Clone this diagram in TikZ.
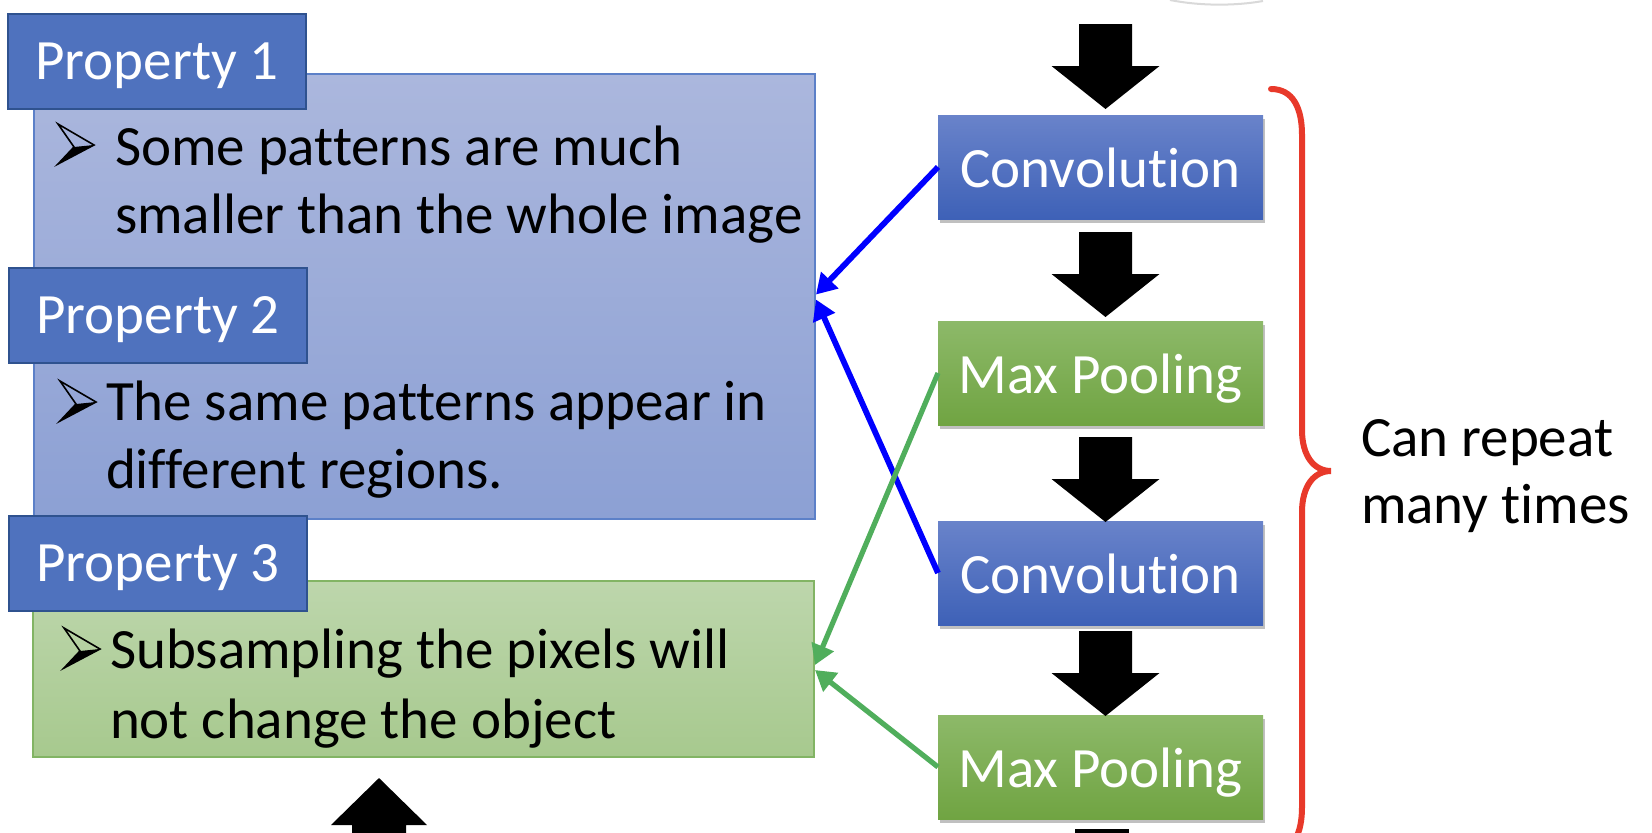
\documentclass[tikz,border=0pt]{standalone}
\usepackage{fontspec}
\setmainfont{Carlito}[Ligatures={NoCommon}]
\usetikzlibrary{arrows.meta,shadows,calc}
\definecolor{mbtop}{RGB}{171,183,221}
\definecolor{mbbot}{RGB}{140,160,212}
\definecolor{mbline}{RGB}{92,128,200}
\definecolor{gbtop}{RGB}{189,214,172}
\definecolor{gbbot}{RGB}{167,201,142}
\definecolor{gbline}{RGB}{130,180,100}
\definecolor{propfill}{RGB}{79,114,190}
\definecolor{propline}{RGB}{47,82,143}
\definecolor{convtop}{RGB}{105,131,202}
\definecolor{convbot}{RGB}{62,97,183}
\definecolor{pooltop}{RGB}{141,185,105}
\definecolor{poolbot}{RGB}{112,164,66}
\definecolor{connblue}{RGB}{0,0,255}
\definecolor{conngreen}{RGB}{80,174,92}
\definecolor{bracered}{RGB}{232,57,42}
\tikzset{
  txt/.style={font=\fontsize{28.5pt}{34pt}\selectfont, inner sep=0pt, outer sep=0pt},
  line/.style={txt, anchor=base west, text=black},
  propbox/.style={txt, draw=propline, line width=1pt, fill=propfill, text=white,
    minimum width=149pt, minimum height=47.5pt, text height=18pt, text depth=0pt},
  layerbox/.style={txt, text=white, minimum width=162.5pt, minimum height=52pt,
    text height=20pt, text depth=0pt,
    drop shadow={shadow xshift=0.8pt, shadow yshift=-1.8pt, opacity=0.35, fill=black!70}},
  convbox/.style={layerbox, top color=convtop, bottom color=convbot},
  poolbox/.style={layerbox, top color=pooltop, bottom color=poolbot},
  blueconn/.style={draw=connblue, line width=2.9pt, -{Triangle[length=10pt,width=11.5pt]}},
  greenconn/.style={draw=conngreen, line width=2.6pt, -{Triangle[length=10pt,width=11.5pt]}},
  pics/bulletarrow/.style={code={
    \fill[black] (16,23) -- (36,21) -- (0,40) -- cycle;
    \draw[black, line width=0.8pt, line join=miter] (0,0) -- (36,21) -- (0,40) -- (16,23) -- cycle;
  }},
  pics/blockdown/.style={code={
    \fill[black] (-26.5,0) -- (26.5,0) -- (26.5,42) -- (54,42) -- (0,85) -- (-54,42) -- (-26.5,42) -- cycle;
  }},
}
\begin{document}
\begin{tikzpicture}[x=0.5pt,y=-0.5pt]
\useasboundingbox (0,0) rectangle (1652,832);
\clip (0,0) rectangle (1652,832);
\fill[white] (0,0) rectangle (1652,832);

% faint arc at the top edge
\draw[black!15, line width=1pt] (1170,0) .. controls (1200,6) and (1235,6) .. (1263,1);

% main property boxes
\node[draw=mbline, line width=0.6pt, top color=mbtop, bottom color=mbbot,
  minimum width=390.5pt, minimum height=222.5pt, inner sep=0pt, outer sep=0pt] (mb) at (424.5,296.5) {};
\node[draw=gbline, line width=0.6pt, top color=gbtop, bottom color=gbbot,
  minimum width=390.5pt, minimum height=88pt, inner sep=0pt, outer sep=0pt] (gb) at (423.5,669) {};

% property headers
\node[propbox] (p1) at (157,61.5) {Property 1};
\node[propbox] (p2) at (158,315) {Property 2};
\node[propbox] (p3) at (158,563) {Property 3};

% bullet texts
\pic at (58,124) {bulletarrow};
\node[line] (t1a) at (115,165) {Some patterns are much};
\node[line] (t1b) at (115,233) {smaller than the whole image};
\pic at (60,381) {bulletarrow};
\node[line] (t2a) at (106,420) {The same patterns appear in};
\node[line] (t2b) at (106,488) {different regions.};
\pic at (64,628) {bulletarrow};
\node[line] (t3a) at (110,668) {Subsampling the pixels will};
\node[line] (t3b) at (110,738) {not change the object};

% layer boxes
\node[convbox] (c1) at (1100.5,167) {Convolution};
\node[poolbox] (m1) at (1100.5,373) {Max Pooling};
\node[convbox] (c2) at (1100.5,573) {Convolution};
\node[poolbox] (m2) at (1100.5,767) {Max Pooling};

% block arrows
\pic at (1105.5,24) {blockdown};
\pic at (1105.5,232) {blockdown};
\pic at (1105.5,437) {blockdown};
\pic at (1105.5,631) {blockdown};
\fill[black] (1075,829) rectangle (1129,845);
% up arrow at bottom left
\fill[black] (379,778) -- (427,825) -- (406,825) -- (406,845) -- (352,845) -- (352,825) -- (331,825) -- cycle;

% connectors
\draw[blueconn] (c1.west) -- ($(mb.east)+(1,-2)$);
\draw[blueconn] (c2.west) -- ($(mb.east)+(1,3)$);
\draw[greenconn] (m1.west) -- ($(gb.east)+(1,-4)$);
\draw[greenconn] (m2.west) -- ($(gb.east)+(1,1)$);

% brace
\draw[bracered, line width=3pt, line cap=round]
  (1271,89) .. controls (1293,89) and (1302,108) .. (1302,135)
  -- (1302,430) .. controls (1302,456) and (1314,471) .. (1331,471)
  .. controls (1314,471) and (1302,486) .. (1302,512)
  -- (1302,807) .. controls (1302,834) and (1293,853) .. (1271,853);
\coordinate (bracetip) at (1331,471);

\node[line] (r1) at (1361,456) {Can repeat};
\node[line] (r2) at (1361,523) {many times};
\end{tikzpicture}
\end{document}
